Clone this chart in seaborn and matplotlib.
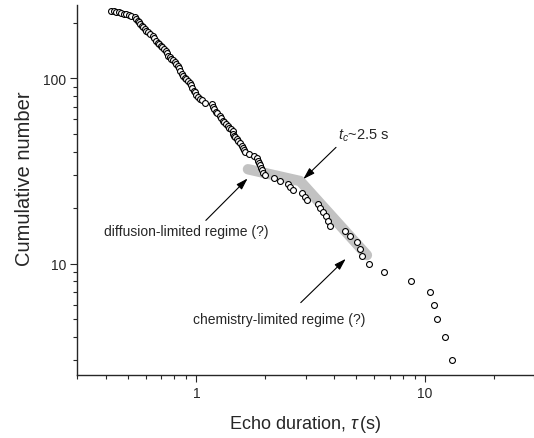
import numpy as np
import pandas as pd
import matplotlib
matplotlib.use("Agg")
import matplotlib.pyplot as plt
import matplotlib.ticker as mticker
import seaborn as sns

# cumulative distribution of echo durations
cumulative_number = [
    232, 230, 229, 227, 225, 223, 222, 220, 218, 214, 210, 205, 201, 197, 193,
    189, 185, 181, 177, 173, 169, 165, 160, 156, 153, 150, 147, 144, 141, 137,
    132, 130, 127, 125, 122, 120, 117, 114, 110, 106, 103, 101, 99, 97, 95,
    92, 89, 86, 84, 81, 79, 77, 76, 74,
    73, 70, 68, 66, 65, 63, 61, 59, 58, 57, 55, 54, 53, 52, 50, 49, 48, 47,
    46, 45, 43, 42, 41, 40, 39, 38, 37, 36, 35, 34, 33, 32, 31, 30,
    29, 28, 27, 26, 25, 24, 23, 22, 21, 20, 19, 18, 17, 16, 15, 14, 13, 12,
    11, 10, 9, 8, 7, 6, 5, 4, 3,
]
echo_duration = [
    0.424, 0.435, 0.446, 0.458, 0.469, 0.482, 0.493, 0.506, 0.519, 0.536,
    0.545, 0.555, 0.561, 0.568, 0.575, 0.583, 0.593, 0.604, 0.613, 0.624,
    0.645, 0.653, 0.668, 0.677, 0.686, 0.698, 0.710, 0.722, 0.733, 0.741,
    0.750, 0.762, 0.776, 0.790, 0.803, 0.816, 0.830, 0.840, 0.851, 0.863,
    0.874, 0.889, 0.904, 0.920, 0.935, 0.947, 0.960, 0.972, 0.984, 1.000,
    1.016, 1.034, 1.052, 1.087,
    1.175, 1.184, 1.191, 1.212, 1.224, 1.266, 1.283, 1.300, 1.322, 1.345,
    1.370, 1.390, 1.415, 1.439, 1.450, 1.458, 1.478, 1.497, 1.523, 1.549,
    1.575, 1.592, 1.611, 1.630, 1.700, 1.780, 1.845, 1.863, 1.880, 1.896,
    1.910, 1.928, 1.959, 1.993,
    2.18, 2.32, 2.52, 2.57, 2.65, 2.89, 2.99, 3.04, 3.41, 3.47, 3.57, 3.69,
    3.78, 3.84, 4.47, 4.70, 5.03, 5.22, 5.29, 5.71, 6.65, 8.68, 10.48, 10.99,
    11.29, 12.19, 13.13,
]

# grey guide band (two regimes meeting at t_c)
band_tau = [1.68, 2.84, 5.57]
band_n = [32.3, 27.9, 11.1]

df = pd.DataFrame({"tau": echo_duration, "n": cumulative_number})

sns.set_style("ticks")
plt.rcParams["font.family"] = ["Liberation Sans", "DejaVu Sans"]
plt.rcParams["mathtext.fontset"] = "custom"
plt.rcParams["mathtext.rm"] = "Liberation Sans"
plt.rcParams["mathtext.it"] = "Liberation Sans:italic"

fig = plt.figure(figsize=(5.34, 4.39), dpi=100)
ax = fig.add_axes([77 / 534, 63 / 439, 457 / 534, 370.3 / 439])

ax.plot(band_tau, band_n, color="#c2c2c2", lw=7.5, solid_capstyle="round", zorder=1)
sns.scatterplot(data=df, x="tau", y="n", ax=ax, s=18, facecolor="white",
                edgecolor="black", linewidth=0.8, zorder=3, legend=False)

ax.set_xscale("log")
ax.set_yscale("log")
ax.set_xlim(0.3, 30)
ax.set_ylim(2.5, 250)

ax.xaxis.set_major_locator(mticker.FixedLocator([1, 10]))
ax.yaxis.set_major_locator(mticker.FixedLocator([10, 100]))
ax.xaxis.set_major_formatter(mticker.FuncFormatter(lambda v, p: f"{v:g}"))
ax.yaxis.set_major_formatter(mticker.FuncFormatter(lambda v, p: f"{v:g}"))
ax.xaxis.set_minor_locator(mticker.LogLocator(base=10, subs=np.arange(2, 10)))
ax.yaxis.set_minor_locator(mticker.LogLocator(base=10, subs=np.arange(2, 10)))
ax.xaxis.set_minor_formatter(mticker.NullFormatter())
ax.yaxis.set_minor_formatter(mticker.NullFormatter())
ax.tick_params(which="major", length=5, width=0.8, labelsize=10, direction="out", pad=3)
ax.tick_params(which="minor", length=3, width=0.8, direction="out")

sns.despine(ax=ax)
for s in ["left", "bottom"]:
    ax.spines[s].set_linewidth(1.0)

ax.set_xlabel(r"Echo duration, $\tau\,$(s)", fontsize=13, labelpad=9)
ax.set_ylabel("Cumulative number", fontsize=14.5, labelpad=8)
ax.yaxis.set_label_coords(-0.094, 0.532)

arrow = dict(arrowstyle="-|>,head_length=0.7,head_width=0.22", color="black",
             lw=0.8, shrinkA=0, shrinkB=0, mutation_scale=10)
ax.annotate("", xy=(1.674, 28.8), xytext=(1.099, 17.1), arrowprops=arrow)
ax.text(0.904, 15.0, "diffusion-limited regime (?)", ha="center", va="center", fontsize=10)
ax.annotate("", xy=(4.50, 10.6), xytext=(2.86, 6.15), arrowprops=arrow)
ax.text(2.29, 5.04, "chemistry-limited regime (?)", ha="center", va="center", fontsize=10)
ax.annotate("", xy=(2.935, 28.6), xytext=(4.08, 42.4), arrowprops=arrow)
ax.text(4.17, 47.4, r"$t_c$~2.5 s", ha="left", va="baseline", fontsize=10.5)

fig.savefig("out.png", dpi=100)
